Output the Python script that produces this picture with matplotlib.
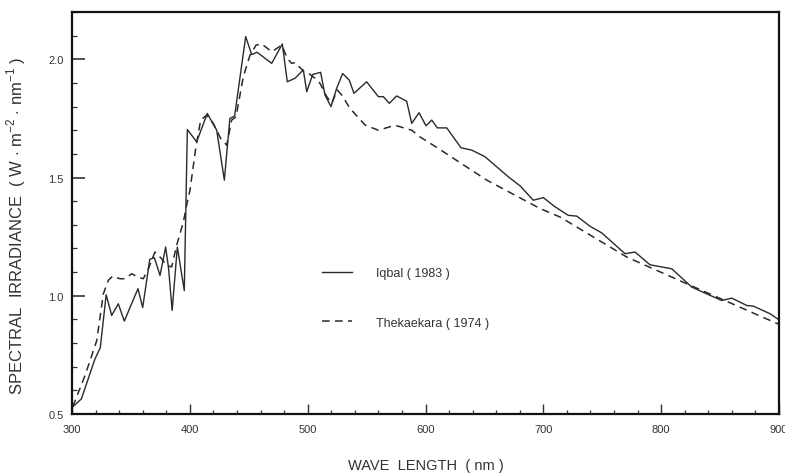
import matplotlib
matplotlib.use("Agg")
import matplotlib.pyplot as plt
from matplotlib.ticker import MultipleLocator

plt.rcParams['font.family'] = ['Liberation Sans', 'DejaVu Sans']
plt.rcParams['mathtext.fontset'] = 'custom'
plt.rcParams['mathtext.rm'] = 'Liberation Sans'

# Iqbal (1983) - solid
iqbal_wl = [300.6, 308, 319.5, 324, 329, 333.7, 339.3, 344.4, 356, 360, 366, 369.9,
            374.7, 379.5, 382, 385, 389.4, 395.3, 397.9, 405.8, 414.8, 422.8, 429.3,
            434, 438, 447.4, 452.5, 457, 469.5, 478.5, 482.7, 489.3, 496.3, 499.2,
            504.3, 511, 514.7, 519.8, 524.6, 529.7, 535.3, 539.3, 550, 560, 564.2,
            569.3, 575.5, 584, 588.3, 594.5, 600.4, 605.3, 610, 618, 630.1, 639.2,
            650.5, 670.3, 680.2, 691.5, 700, 710, 721.2, 728.3, 739.6, 749.5, 769.3,
            777.8, 790.5, 809, 825.9, 838.6, 851.4, 859.9, 872.6, 878.3, 892.4, 900]
iqbal_val = [0.53, 0.564, 0.733, 0.78, 1.004, 0.917, 0.966, 0.893, 1.03, 0.95, 1.154, 1.161,
             1.086, 1.206, 1.114, 0.938, 1.206, 1.022, 1.703, 1.651, 1.771, 1.70, 1.489,
             1.75, 1.76, 2.096, 2.02, 2.03, 1.983, 2.065, 1.905, 1.92, 1.955, 1.863,
             1.936, 1.945, 1.849, 1.80, 1.877, 1.94, 1.912, 1.856, 1.905, 1.842, 1.842,
             1.814, 1.845, 1.823, 1.729, 1.774, 1.719, 1.743, 1.71, 1.71, 1.626, 1.616,
             1.588, 1.503, 1.465, 1.404, 1.415, 1.376, 1.34, 1.337, 1.294, 1.266, 1.178,
             1.185, 1.131, 1.114, 1.037, 1.008, 0.98, 0.99, 0.959, 0.956, 0.924, 0.898]

# Thekaekara (1974) - dashed
thek_wl = [300.6, 311, 321, 326.6, 330.8, 334.5, 340.7, 345, 350.6, 356.3, 360.5, 364.8,
           370.4, 376, 380.3, 384.6, 388.8, 394.5, 397.9, 400.1, 405.2, 409.2, 414.3,
           419.9, 426.2, 431.3, 435.5, 439.2, 445.4, 451.1, 456.2, 461, 469.5, 478,
           482.7, 486.4, 489.3, 496.9, 501.4, 506.2, 510.5, 516.2, 520.4, 525.2, 528.9,
           536, 548.7, 560, 569.9, 575.5, 588.3, 595.3, 610.9, 652, 697.2, 714.2,
           770.7, 821.6, 900]
thek_val = [0.53, 0.662, 0.81, 1.008, 1.065, 1.083, 1.072, 1.072, 1.093, 1.079, 1.072, 1.114,
            1.185, 1.157, 1.128, 1.122, 1.213, 1.312, 1.397, 1.446, 1.63, 1.743, 1.764,
            1.729, 1.665, 1.637, 1.743, 1.757, 1.927, 2.018, 2.06, 2.065, 2.032, 2.06,
            2.004, 1.983, 1.986, 1.948, 1.938, 1.92, 1.898, 1.842, 1.814, 1.87, 1.849,
            1.792, 1.722, 1.70, 1.715, 1.719, 1.70, 1.672, 1.623, 1.489, 1.369, 1.333,
            1.164, 1.051, 0.879]

fig = plt.figure(figsize=(7.85, 4.77), dpi=100)
ax = fig.add_axes([0.0917, 0.13, 0.9007, 0.8427])

ax.plot(iqbal_wl, iqbal_val, color='#2a2a2a', lw=1.0, label='Iqbal ( 1983 )')
ax.plot(thek_wl, thek_val, color='#2a2a2a', lw=1.1, ls=(0, (5, 3.5)),
        label='Thekaekara ( 1974 )')

ax.set_xlim(300, 900)
ax.set_ylim(0.5, 2.2)
ax.xaxis.set_major_locator(MultipleLocator(100))
ax.xaxis.set_minor_locator(MultipleLocator(20))
ax.yaxis.set_major_locator(MultipleLocator(0.5))
ax.yaxis.set_minor_locator(MultipleLocator(0.1))
ax.yaxis.set_major_formatter(plt.FormatStrFormatter('%.1f'))

for s in ax.spines.values():
    s.set_linewidth(1.6)
    s.set_color('#111111')

ax.tick_params(axis='x', which='major', direction='in', length=7, width=1.0,
               pad=7, labelsize=8, colors='#333333')
ax.tick_params(axis='x', which='minor', direction='in', length=3, width=0.9,
               colors='#333333')
ax.tick_params(axis='y', which='major', direction='in', length=9.5, width=1.2,
               pad=6, labelsize=8, colors='#333333')
ax.tick_params(axis='y', which='minor', direction='in', length=3.5, width=0.9,
               colors='#333333')

ax.set_xlabel('WAVE  LENGTH  ( nm )', fontsize=10.5, color='#333333')
ax.xaxis.set_label_coords(0.5, -0.11)
ax.set_ylabel(r'SPECTRAL  IRRADIANCE  ( W $\cdot$ m$^{-2}$ $\cdot$ nm$^{-1}$ )',
              fontsize=12, color='#333333')
ax.yaxis.set_label_coords(-0.062, 0.47)

ax.legend(loc='upper left', bbox_to_anchor=(0.3536, 0.365), frameon=False,
          borderpad=0, borderaxespad=0, handlelength=2.4, handletextpad=1.9,
          labelspacing=3.0, fontsize=9, labelcolor='#333333')

fig.savefig('out.png', dpi=100)
